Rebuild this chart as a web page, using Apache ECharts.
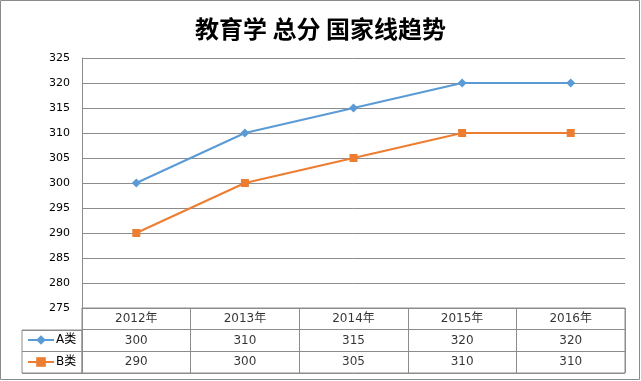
<!DOCTYPE html>
<html><head><meta charset="utf-8">
<script src="https://cdn.jsdelivr.net/npm/echarts@6/dist/echarts.min.js"></script>
<style>html,body{margin:0;padding:0;background:#fff}#c{width:641px;height:381px}</style>
</head><body><div id="c"></div>
<script>
const titleText = '教育学 总分 国家线趋势';
const categories = ['2012年', '2013年', '2014年', '2015年', '2016年'];
const seriesNames = ['A类', 'B类'];
const seriesA = [300, 310, 315, 320, 320];
const seriesB = [290, 300, 305, 310, 310];
const yMin = 275, yMax = 325, yStep = 5;

const FONT = '"DejaVu Sans", "Noto Sans CJK SC", sans-serif';
const GRID_C = '#8c8c8c';

// table text cells built from the arrays
const tableCells = [];
categories.forEach((c, i) => tableCells.push([i, 0, c]));
seriesA.forEach((v, i) => tableCells.push([i, 1, String(v)]));
seriesB.forEach((v, i) => tableCells.push([i, 2, String(v)]));

const chart = echarts.init(document.getElementById('c'), null, {renderer: 'canvas'});
chart.setOption({
  animation: false,
  backgroundColor: '#fff',
  textStyle: {fontFamily: FONT},
  title: {
    text: titleText, left: 'center', top: 12,
    textStyle: {fontFamily: '"Noto Sans CJK SC", sans-serif', fontSize: 24, fontWeight: 'bold', color: '#000'}
  },
  legend: {
    data: seriesNames, orient: 'vertical', left: 27, top: 334, padding: 0,
    itemWidth: 26, itemHeight: 12, itemGap: 10,
    textStyle: {fontFamily: FONT, fontSize: 12, color: '#000', padding: [0, 0, 0, -3]},
    selectedMode: false
  },
  graphic: [{
    type: 'rect', shape: {x: 0.5, y: 0.5, width: 639, height: 379},
    style: {fill: 'none', stroke: '#8a8a8a', lineWidth: 1}, silent: true, z: 100
  }],
  grid: [
    {left: 82, right: 16, top: 58, bottom: 73, containLabel: false},
    {left: 82, right: 16, top: 308, bottom: 8, show: true, borderColor: GRID_C, borderWidth: 1},
    {left: 22, width: 60, top: 330, bottom: 8, show: true, borderColor: GRID_C, borderWidth: 1}
  ],
  xAxis: [
    {gridIndex: 0, type: 'category', data: categories, boundaryGap: true,
     axisLine: {show: true, lineStyle: {color: GRID_C}}, axisTick: {show: false}, axisLabel: {show: false}},
    {gridIndex: 1, type: 'category', data: categories, boundaryGap: true,
     axisLine: {show: false}, axisTick: {show: false}, axisLabel: {show: false},
     splitLine: {show: true, lineStyle: {color: GRID_C, width: 1}}},
    {gridIndex: 2, type: 'value', show: false}
  ],
  yAxis: [
    {gridIndex: 0, type: 'value', min: yMin, max: yMax, interval: yStep,
     axisLine: {show: true, lineStyle: {color: GRID_C}}, axisTick: {show: false},
     axisLabel: {color: '#000', fontSize: 11, fontFamily: FONT, margin: 12},
     splitLine: {show: true, lineStyle: {color: GRID_C, width: 1}}},
    {gridIndex: 1, type: 'category', data: ['hdr'].concat(seriesNames), inverse: true, boundaryGap: true,
     axisLine: {show: false}, axisTick: {show: false}, axisLabel: {show: false},
     splitLine: {show: true, interval: 0, lineStyle: {color: GRID_C, width: 1}}},
    {gridIndex: 2, type: 'category', data: seriesNames, inverse: true, boundaryGap: true,
     axisLine: {show: false}, axisTick: {show: false}, axisLabel: {show: false},
     splitLine: {show: true, interval: 0, lineStyle: {color: GRID_C, width: 1}}}
  ],
  series: [
    {name: seriesNames[0], type: 'line', xAxisIndex: 0, yAxisIndex: 0, data: seriesA,
     symbol: 'diamond', symbolSize: 9, showAllSymbol: true,
     lineStyle: {color: '#5B9BD5', width: 2}, itemStyle: {color: '#5B9BD5'}},
    {name: seriesNames[1], type: 'line', xAxisIndex: 0, yAxisIndex: 0, data: seriesB,
     symbol: 'rect', symbolSize: 8, showAllSymbol: true,
     lineStyle: {color: '#ED7D31', width: 2}, itemStyle: {color: '#ED7D31'}},
    {type: 'scatter', xAxisIndex: 1, yAxisIndex: 1, data: tableCells, symbolSize: 1,
     itemStyle: {color: 'rgba(0,0,0,0)'}, silent: true,
     label: {show: true, position: 'inside', color: '#000', fontSize: 12, fontFamily: FONT,
             formatter: p => p.value[2]}}
  ]
});
</script></body></html>
